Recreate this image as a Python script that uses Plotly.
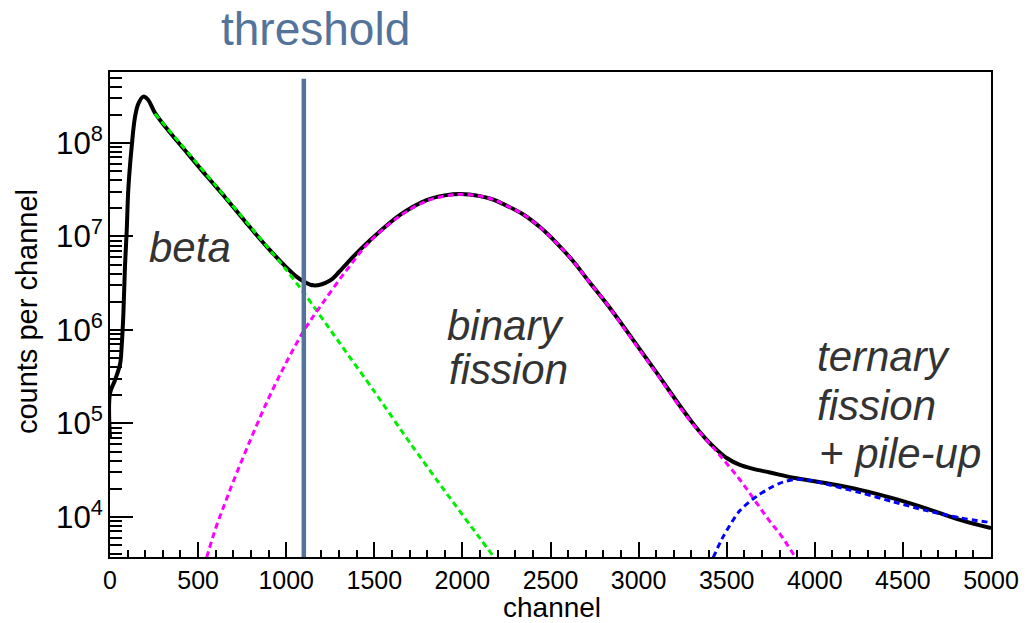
import plotly.graph_objects as go

# ---- data (channel, counts per channel) ----
total_x = [0, 0, 28, 57, 66, 76, 85, 95, 104, 123, 142, 161, 189, 217, 255, 350, 444, 550, 653, 776,
           900, 1000, 1060, 1100, 1155, 1249, 1300, 1362, 1476, 1646, 1797, 1900, 1990, 2100, 2170,
           2250, 2346, 2440, 2535, 2630, 2724, 2820, 2913, 3103, 3292, 3380, 3443, 3500, 3575, 3650,
           3746, 3878, 4068, 4257, 4446, 4635, 4824, 5000]
total_y = [7.0e4, 2.1e5, 2.9e5, 4.3e5, 6.6e5, 1.5e6, 4.8e6, 1.17e7, 3.2e7, 9.1e7, 1.9e8, 2.63e8, 3.13e8,
           2.88e8, 2.1e8, 1.23e8, 7.6e7, 4.4e7, 2.63e7, 1.38e7, 7.4e6, 4.7e6, 3.7e6, 3.3e6, 3.0e6, 3.39e6,
           4.17e6, 5.6e6, 9.1e6, 1.7e7, 2.45e7, 2.75e7, 2.85e7, 2.7e7, 2.5e7, 2.14e7, 1.72e7, 1.26e7,
           8.5e6, 5.4e6, 3.2e6, 1.9e6, 1.1e6, 3.47e5, 1.1e5, 6.9e4, 5.25e4, 4.27e4, 3.6e4, 3.27e4,
           2.99e4, 2.63e4, 2.29e4, 1.95e4, 1.58e4, 1.23e4, 9.3e3, 7.6e3]

beta_x = [255, 400, 600, 800, 1000, 1100, 1300, 1500, 1700, 1900, 2100, 2180]
beta_y = [2.05e8, 9.8e7, 3.5e7, 1.25e7, 4.4e6, 2.5e6, 7.4e5, 2.2e5, 6.3e4, 1.9e4, 5.9e3, 3.7e3]

binary_x = [549, 600, 653, 700, 800, 900, 1000, 1100, 1200, 1343, 1476, 1646, 1797, 1900, 1990, 2100,
            2170, 2250, 2346, 2440, 2535, 2630, 2724, 2820, 2913, 3103, 3292, 3443, 3575, 3670, 3746,
            3802, 3890]
binary_y = [3.7e3, 7.6e3, 1.41e4, 2.4e4, 6.9e4, 1.86e5, 4.47e5, 9.8e5, 1.86e6, 4.37e6, 8.9e6, 1.66e7,
            2.4e7, 2.7e7, 2.82e7, 2.7e7, 2.5e7, 2.14e7, 1.72e7, 1.26e7, 8.5e6, 5.4e6, 3.2e6, 1.9e6,
            1.07e6, 3.39e5, 1.07e5, 5.0e4, 2.5e4, 1.41e4, 8.9e3, 6.6e3, 3.7e3]

ternary_x = [3424, 3481, 3575, 3670, 3746, 3800, 3878, 3950, 4068, 4257, 4446, 4635, 4824, 5000]
ternary_y = [3.7e3, 6.2e3, 1.17e4, 1.66e4, 2.04e4, 2.29e4, 2.51e4, 2.51e4, 2.24e4, 1.82e4, 1.45e4,
             1.17e4, 9.8e3, 8.7e3]

threshold_channel = 1100

x_range = [0, 5000]
y_log_range = [3.572, 8.759]

FONT = "Liberation Sans, Arial, Helvetica, sans-serif"
TEXT = "#333333"
THR = "#53739a"

fig = go.Figure()
fig.add_trace(go.Scatter(x=total_x, y=total_y, mode="lines",
                         line=dict(color="black", width=4, shape="spline", smoothing=1.0)))
fig.add_trace(go.Scatter(x=beta_x, y=beta_y, mode="lines",
                         line=dict(color="#00ee00", width=3, dash="6px,4px", shape="spline", smoothing=0.8)))
fig.add_trace(go.Scatter(x=binary_x, y=binary_y, mode="lines",
                         line=dict(color="#ff00ff", width=3, dash="6px,4px", shape="spline", smoothing=1.0)))
fig.add_trace(go.Scatter(x=ternary_x, y=ternary_y, mode="lines",
                         line=dict(color="#0000ff", width=3, dash="6px,4px", shape="spline", smoothing=0.8)))

fig.add_shape(type="line", xref="x", yref="y domain", x0=threshold_channel, x1=threshold_channel,
              y0=0, y1=0.986, line=dict(color=THR, width=4.5), layer="above")

def ann(text, x, y, size, color=TEXT, xanchor="center", italic=True, angle=0):
    fig.add_annotation(text=f"<i>{text}</i>" if italic else text, xref="paper", yref="paper",
                       x=x, y=y, xanchor=xanchor, yanchor="middle", showarrow=False,
                       textangle=angle, font=dict(family=FONT, size=size, color=color))

ann("threshold", 0.2327, 1.0887, 46, color=THR, italic=False)
ann("beta", 0.0908, 0.639, 42)
ann("binary", 0.380, 0.478, 42, xanchor="left")
ann("fission", 0.3825, 0.3856, 42, xanchor="left")
ann("ternary", 0.800, 0.4124, 42, xanchor="left")
ann("fission", 0.800, 0.3134, 42, xanchor="left")
ann("+ pile-up", 0.8025, 0.2144, 42, xanchor="left")
ann("counts per channel", -0.0942, 0.505, 29, color="black", italic=False, angle=-90)
ann("channel", 0.5017, -0.104, 28, color="black", italic=False)

fig.update_layout(
    width=1030, height=623,
    margin=dict(l=110, r=39, t=72, b=66),
    paper_bgcolor="white", plot_bgcolor="white",
    showlegend=False,
    font=dict(family=FONT, color="black"),
)
fig.update_xaxes(range=x_range, showgrid=False, zeroline=False,
                 showline=True, linecolor="black", linewidth=2, mirror=True,
                 ticks="inside", ticklen=15, tickwidth=1.5, tickcolor="black",
                 tick0=0, dtick=500, tickfont=dict(size=25, family=FONT, color="black"),
                 minor=dict(ticks="inside", ticklen=7, tickwidth=1.5, tickcolor="black", dtick=100,
                            showgrid=False))
fig.update_yaxes(type="log", range=y_log_range, showgrid=False, zeroline=False,
                 showline=True, linecolor="black", linewidth=2, mirror=True,
                 ticks="inside", ticklen=23, tickwidth=1.5, tickcolor="black",
                 dtick=1, exponentformat="power", showexponent="all",
                 tickfont=dict(size=25, family=FONT, color="black"),
                 minor=dict(ticks="inside", ticklen=12, tickwidth=1.5, tickcolor="black", dtick="D1",
                            showgrid=False))

fig.write_html("out.html")
